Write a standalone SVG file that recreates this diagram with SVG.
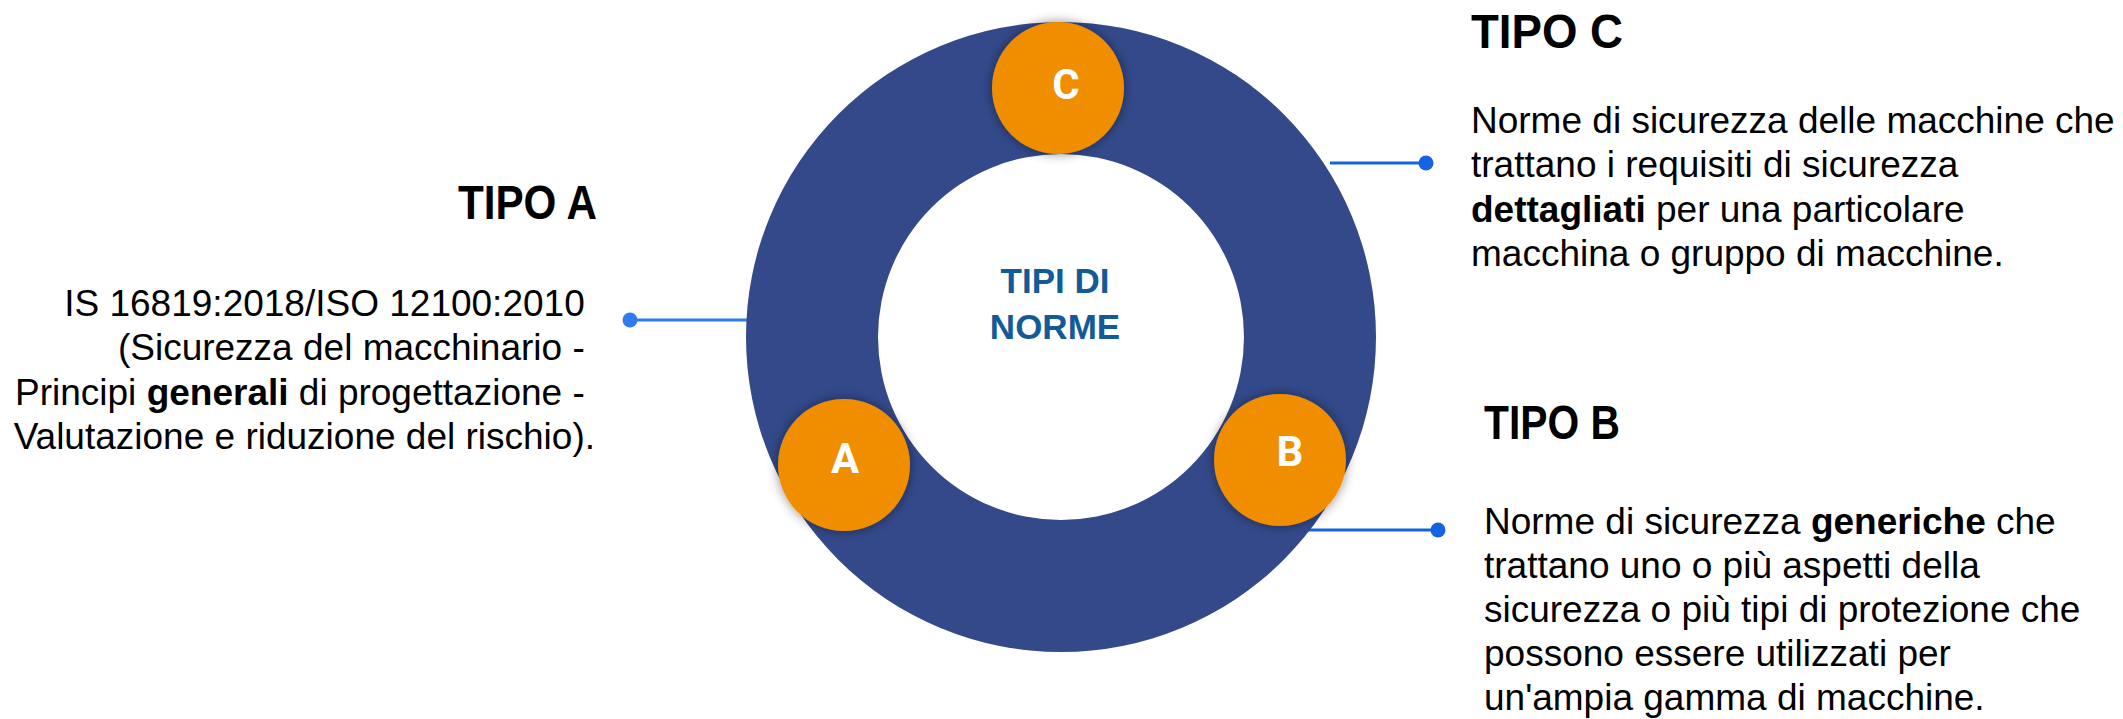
<svg xmlns="http://www.w3.org/2000/svg" width="2123" height="719" viewBox="0 0 2123 719">
  <defs>
    <filter id="sh" x="-30%" y="-30%" width="160%" height="160%">
      <feGaussianBlur in="SourceAlpha" stdDeviation="6"/>
      <feOffset dx="0" dy="0" result="b"/>
      <feComponentTransfer><feFuncA type="linear" slope="0.45"/></feComponentTransfer>
      <feMerge><feMergeNode/><feMergeNode in="SourceGraphic"/></feMerge>
    </filter>
  </defs>
  <style>
    .ring { fill: #33498A; fill-rule: evenodd; }
    .badge { fill: #F18E00; filter: url(#sh); }
    .letter { font-family: Roboto, "Liberation Sans", sans-serif; font-weight: bold; font-size: 42px; fill: #FFFFFF; text-anchor: middle; }
    .center { font-family: "Liberation Sans", Arial, sans-serif; font-weight: bold; font-size: 35px; fill: #135B96; text-anchor: middle; }
    .head { font-family: "Liberation Sans", Arial, sans-serif; font-weight: bold; font-size: 48px; fill: #000000; }
    .body { font-family: "Liberation Sans", Arial, sans-serif; font-size: 37px; fill: #000000; }
    .b { font-weight: bold; }
    .lineL { stroke: #2F7CF2; stroke-width: 3; fill: none; }
    .lineR { stroke: #1562E2; stroke-width: 3; fill: none; }
    .dotL { fill: #2F7CF2; }
    .dotR { fill: #1562E2; }
  </style>
  <rect width="2123" height="719" fill="#FFFFFF"/>

  <g id="connectors">
    <line class="lineL" x1="630" y1="320" x2="770" y2="320"/>
    <circle class="dotL" cx="630" cy="320" r="7.5"/>
    <line class="lineR" x1="1330" y1="163" x2="1426" y2="163"/>
    <circle class="dotR" cx="1426" cy="163" r="7.5"/>
    <line class="lineR" x1="1300" y1="530" x2="1438" y2="530"/>
    <circle class="dotR" cx="1438" cy="530" r="7.5"/>
  </g>

  <g id="ring">
    <path class="ring" d="M 746 337 A 315 315 0 1 0 1376 337 A 315 315 0 1 0 746 337 Z M 878 337 A 183 183 0 1 0 1244 337 A 183 183 0 1 0 878 337 Z"/>
    <text class="center" x="1055" y="293">TIPI DI</text>
    <text class="center" x="1055" y="339">NORME</text>
  </g>

  <g id="badge-c">
    <circle class="badge" cx="1058" cy="88" r="66"/>
    <text class="letter" x="1066" y="99">C</text>
  </g>
  <g id="badge-a">
    <circle class="badge" cx="844" cy="465" r="66"/>
    <text class="letter" x="845" y="473">A</text>
  </g>
  <g id="badge-b">
    <circle class="badge" cx="1280" cy="460" r="66"/>
    <text class="letter" x="1290" y="466">B</text>
  </g>

  <g id="tipo-a">
    <text class="head" x="458" y="219" textLength="139" lengthAdjust="spacingAndGlyphs">TIPO A</text>
    <text class="body" text-anchor="end">
      <tspan x="595" y="316">IS 16819:2018/ISO 12100:2010</tspan>
      <tspan x="595" y="360">(Sicurezza del macchinario -</tspan>
      <tspan x="595" y="405">Principi <tspan class="b">generali</tspan> di progettazione -</tspan>
      <tspan x="595" y="449">Valutazione e riduzione del rischio).</tspan>
    </text>
  </g>

  <g id="tipo-c">
    <text class="head" x="1471" y="48" textLength="152" lengthAdjust="spacingAndGlyphs">TIPO C</text>
    <text class="body">
      <tspan x="1471" y="133">Norme di sicurezza delle macchine che</tspan>
      <tspan x="1471" y="177">trattano i requisiti di sicurezza</tspan>
      <tspan x="1471" y="222"><tspan class="b">dettagliati</tspan> per una particolare</tspan>
      <tspan x="1471" y="266">macchina o gruppo di macchine.</tspan>
    </text>
  </g>

  <g id="tipo-b">
    <text class="head" x="1484" y="439" textLength="136" lengthAdjust="spacingAndGlyphs">TIPO B</text>
    <text class="body">
      <tspan x="1484" y="534">Norme di sicurezza <tspan class="b">generiche</tspan> che</tspan>
      <tspan x="1484" y="578">trattano uno o più aspetti della</tspan>
      <tspan x="1484" y="622">sicurezza o più tipi di protezione che</tspan>
      <tspan x="1484" y="666">possono essere utilizzati per</tspan>
      <tspan x="1484" y="710">un'ampia gamma di macchine.</tspan>
    </text>
  </g>
</svg>
